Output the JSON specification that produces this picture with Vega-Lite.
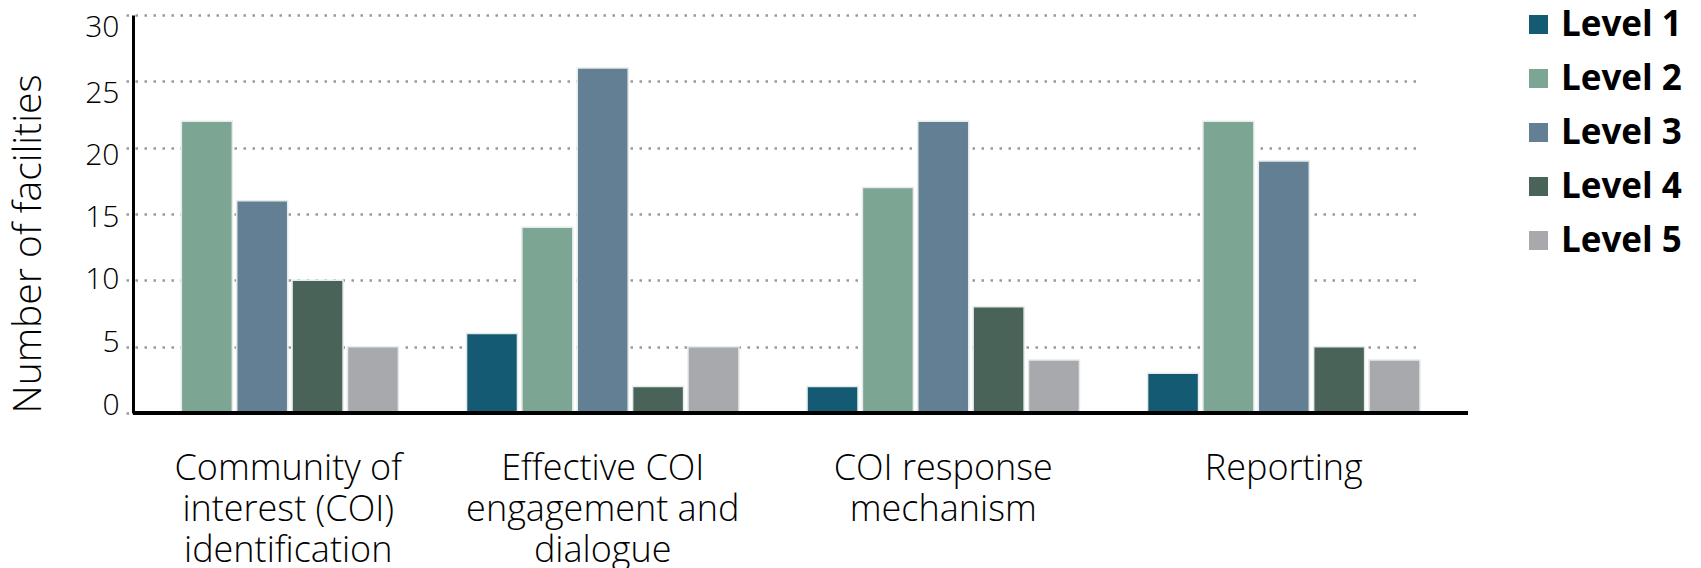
{
  "$schema": "https://vega.github.io/schema/vega-lite/v6.json",
  "width": 1335,
  "height": 398,
  "padding": {"left": 9, "top": 7, "right": 5, "bottom": 5},
  "background": "white",
  "config": {"view": {"stroke": null}, "font": "Open Sans"},
  "data": {
    "values": [
      {"category": "Community of interest (COI) identification", "level": "Level 2", "count": 22},
      {"category": "Community of interest (COI) identification", "level": "Level 3", "count": 16},
      {"category": "Community of interest (COI) identification", "level": "Level 4", "count": 10},
      {"category": "Community of interest (COI) identification", "level": "Level 5", "count": 5},
      {"category": "Effective COI engagement and dialogue", "level": "Level 1", "count": 6},
      {"category": "Effective COI engagement and dialogue", "level": "Level 2", "count": 14},
      {"category": "Effective COI engagement and dialogue", "level": "Level 3", "count": 26},
      {"category": "Effective COI engagement and dialogue", "level": "Level 4", "count": 2},
      {"category": "Effective COI engagement and dialogue", "level": "Level 5", "count": 5},
      {"category": "COI response mechanism", "level": "Level 1", "count": 2},
      {"category": "COI response mechanism", "level": "Level 2", "count": 17},
      {"category": "COI response mechanism", "level": "Level 3", "count": 22},
      {"category": "COI response mechanism", "level": "Level 4", "count": 8},
      {"category": "COI response mechanism", "level": "Level 5", "count": 4},
      {"category": "Reporting", "level": "Level 1", "count": 3},
      {"category": "Reporting", "level": "Level 2", "count": 22},
      {"category": "Reporting", "level": "Level 3", "count": 19},
      {"category": "Reporting", "level": "Level 4", "count": 5},
      {"category": "Reporting", "level": "Level 5", "count": 4}
    ]
  },
  "layer": [
    {
      "mark": {"type": "bar", "stroke": "#e4ebea", "strokeWidth": 1.5},
      "encoding": {
        "x": {
          "field": "category",
          "type": "nominal",
          "sort": ["Community of interest (COI) identification", "Effective COI engagement and dialogue", "COI response mechanism", "Reporting"],
          "scale": {"range": [-7, 1287], "paddingInner": 0.2, "paddingOuter": 0},
          "axis": {
            "title": null,
            "domain": false,
            "ticks": false,
            "grid": false,
            "labelAngle": 0,
            "labelFont": "Open Sans",
            "labelFontWeight": 300,
            "labelFontSize": 36,
            "labelLineHeight": 41,
            "labelColor": "black",
            "labelPadding": 38,
            "labelLimit": 0,
            "labelOverlap": false,
            "labelOffset": {"condition": {"test": "datum.value === 'Community of interest (COI) identification'", "value": 26}, "value": 0},
            "labelExpr": "datum.value === 'Community of interest (COI) identification' ? ['Community of', 'interest (COI)', 'identification'] : datum.value === 'Effective COI engagement and dialogue' ? ['Effective COI', 'engagement and', 'dialogue'] : datum.value === 'COI response mechanism' ? ['COI response', 'mechanism'] : datum.value"
          }
        },
        "xOffset": {
          "field": "level",
          "type": "nominal",
          "sort": ["Level 1", "Level 2", "Level 3", "Level 4", "Level 5"],
          "scale": {"paddingInner": 0.08, "paddingOuter": 0}
        },
        "y": {
          "field": "count",
          "type": "quantitative",
          "scale": {"domain": [0, 30], "nice": false},
          "axis": {
            "title": "Number of facilities",
            "titleFont": "Open Sans",
            "titleFontWeight": 300,
            "titleFontSize": 39,
            "titleColor": "black",
            "titleAnchor": "start",
            "titlePadding": 36,
            "values": [0, 5, 10, 15, 20, 25, 30],
            "domain": true,
            "domainColor": "black",
            "domainWidth": 3,
            "ticks": false,
            "grid": true,
            "gridColor": "#9a9a9a",
            "gridDash": [2.5, 6.5],
            "gridWidth": 2.5,
            "labelFont": "Open Sans",
            "labelFontWeight": 300,
            "labelFontSize": 30,
            "labelColor": "black",
            "labelPadding": 14,
            "labelOffset": {
              "condition": [
                {"test": "datum.value >= 25", "value": 12},
                {"test": "datum.value >= 20", "value": 8},
                {"test": "datum.value >= 15", "value": 3},
                {"test": "datum.value >= 10", "value": -1},
                {"test": "datum.value >= 5", "value": -4}
              ],
              "value": -8
            }
          }
        },
        "color": {
          "field": "level",
          "type": "nominal",
          "scale": {
            "domain": ["Level 1", "Level 2", "Level 3", "Level 4", "Level 5"],
            "range": ["#145a72", "#7da593", "#637f93", "#4a6358", "#a8a9ac"]
          },
          "legend": {
            "title": null,
            "orient": "none",
            "legendX": 1388,
            "legendY": -8,
            "padding": 0,
            "symbolType": "square",
            "symbolSize": 361,
            "symbolStrokeWidth": 0,
            "labelFont": "Open Sans",
            "labelFontWeight": "bold",
            "labelFontSize": 35,
            "labelColor": "black",
            "labelOffset": 5,
            "rowPadding": 18,
            "labelLimit": 0
          }
        }
      }
    },
    {
      "mark": {"type": "rule", "color": "black", "strokeWidth": 3.5},
      "encoding": {"y": {"datum": 0}}
    }
  ]
}
